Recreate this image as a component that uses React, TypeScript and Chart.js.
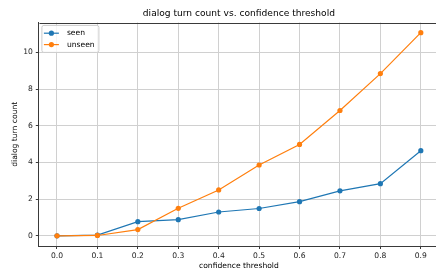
import React, { useEffect, useRef } from "react";
import { Chart, registerables } from "chart.js";

Chart.register(...registerables);

const thresholds = [0.0, 0.1, 0.2, 0.3, 0.4, 0.5, 0.6, 0.7, 0.8, 0.9];
const seenTurns = [0.0, 0.04, 0.77, 0.88, 1.3, 1.49, 1.86, 2.45, 2.84, 4.64];
const unseenTurns = [0.0, 0.02, 0.34, 1.5, 2.5, 3.86, 4.98, 6.83, 8.84, 11.07];
const yTickValues = [0, 2, 4, 6, 8, 10];
const seriesNames = ["seen", "unseen"];
const seriesColors = ["#1f77b4", "#ff7f0e"];
const chartTitle = "dialog turn count vs. confidence threshold";
const xLabel = "confidence threshold";
const yLabel = "dialog turn count";

const FONT = "'DejaVu Sans', sans-serif";
const W = 446;
const H = 274;

export default function App() {
  const ref = useRef<HTMLCanvasElement | null>(null);

  useEffect(() => {
    if (!ref.current) return;
    const xs = thresholds;
    const xMinD = Math.min(...xs);
    const xMaxD = Math.max(...xs);
    const xm = (xMaxD - xMinD) * 0.05;
    const allY = [...seenTurns, ...unseenTurns];
    const yMinD = Math.min(...allY);
    const yMaxD = Math.max(...allY);
    const ym = (yMaxD - yMinD) * 0.05;

    const framePlugin = {
      id: "frameAndText",
      afterDraw(chart: any) {
        const { ctx, chartArea } = chart;
        ctx.save();
        // top and right spines
        ctx.strokeStyle = "#3a3a3a";
        ctx.lineWidth = 1;
        ctx.beginPath();
        ctx.moveTo(Math.round(chartArea.left) + 0.5, Math.round(chartArea.top) + 0.5);
        ctx.lineTo(Math.round(chartArea.right) + 0.5, Math.round(chartArea.top) + 0.5);
        ctx.lineTo(Math.round(chartArea.right) + 0.5, Math.round(chartArea.bottom) + 0.5);
        ctx.stroke();
        // title
        ctx.fillStyle = "#000";
        ctx.font = `9.1px ${FONT}`;
        ctx.textAlign = "center";
        ctx.textBaseline = "middle";
        ctx.fillText(chartTitle, (chartArea.left + chartArea.right) / 2, 14);
        // legend
        const lx = chartArea.left + 2.6;
        const ly = chartArea.top + 2.4;
        const lw = 57;
        const lh = 27;
        ctx.fillStyle = "rgba(255,255,255,0.8)";
        ctx.strokeStyle = "#cccccc";
        ctx.lineWidth = 1;
        ctx.beginPath();
        (ctx as any).roundRect(lx + 0.5, ly + 0.5, lw, lh, 2);
        ctx.fill();
        ctx.stroke();
        ctx.font = `7.6px ${FONT}`;
        ctx.textAlign = "left";
        ctx.textBaseline = "middle";
        seriesNames.forEach((name, i) => {
          const ry = ly + 8.3 + i * 11.4;
          ctx.strokeStyle = seriesColors[i];
          ctx.lineWidth = 1.2;
          ctx.beginPath();
          ctx.moveTo(lx + 2.5, ry);
          ctx.lineTo(lx + 17.5, ry);
          ctx.stroke();
          ctx.fillStyle = seriesColors[i];
          ctx.beginPath();
          ctx.arc(lx + 10, ry, 2.6, 0, Math.PI * 2);
          ctx.fill();
          ctx.fillStyle = "#000";
          ctx.fillText(name, lx + 25.5, ry);
        });
        ctx.restore();
      },
    };

    const chart = new Chart(ref.current, {
      type: "line",
      data: {
        datasets: seriesNames.map((name, i) => ({
          label: name,
          data: thresholds.map((t, j) => ({ x: t, y: (i === 0 ? seenTurns : unseenTurns)[j] })),
          borderColor: seriesColors[i],
          backgroundColor: seriesColors[i],
          borderWidth: 1.2,
          pointRadius: 2.6,
          pointBorderWidth: 0,
          pointHoverRadius: 2.6,
          fill: false,
          tension: 0,
          order: i === 0 ? 1 : 0,
        })),
      },
      options: {
        animation: false,
        responsive: false,
        events: [],
        layout: { padding: { left: 0, right: W - 439, top: 22.5, bottom: 0 } },
        plugins: {
          legend: { display: false },
          title: { display: false },
          tooltip: { enabled: false },
        },
        scales: {
          x: {
            type: "linear",
            min: xMinD - xm,
            max: xMaxD + xm,
            afterBuildTicks: (scale: any) => {
              scale.ticks = thresholds.map((v) => ({ value: v }));
            },
            afterFit: (scale: any) => {
              scale.height = 28;
            },
            ticks: {
              autoSkip: false,
              maxRotation: 0,
              padding: 2,
              color: "#222",
              font: { family: FONT, size: 7.6 },
              callback: (v: any) => Number(v).toFixed(1),
            },
            grid: {
              color: "#d0d0d0",
              lineWidth: 1,
              tickLength: 3,
              tickColor: "#3a3a3a",
              drawTicks: true,
            },
            border: { display: true, color: "#3a3a3a", width: 1 },
            title: {
              display: true,
              text: xLabel,
              color: "#000",
              font: { family: FONT, size: 7.6 },
              padding: { top: 0, bottom: 3.4 },
            },
          },
          y: {
            type: "linear",
            min: yMinD - ym,
            max: yMaxD + ym,
            afterBuildTicks: (scale: any) => {
              scale.ticks = yTickValues.map((v) => ({ value: v }));
            },
            afterFit: (scale: any) => {
              scale.width = 38.8;
            },
            ticks: {
              padding: 3,
              color: "#222",
              font: { family: FONT, size: 7.6 },
              callback: (v: any) => String(v),
            },
            grid: {
              color: "#d0d0d0",
              lineWidth: 1,
              tickLength: 3,
              tickColor: "#3a3a3a",
              drawTicks: true,
            },
            border: { display: true, color: "#3a3a3a", width: 1 },
            title: {
              display: true,
              text: yLabel,
              color: "#000",
              font: { family: FONT, size: 7.6 },
              padding: { top: 10.4, bottom: 0 },
            },
          },
        },
      },
      plugins: [framePlugin],
    } as any);
    return () => chart.destroy();
  }, []);

  return (
    <div
      style={{
        position: "fixed",
        left: 0,
        top: 0,
        width: 436,
        height: 274,
        overflow: "hidden",
        background: "#fff",
      }}
    >
      <canvas ref={ref} width={W} height={H} style={{ display: "block", width: W, height: H }} />
    </div>
  );
}
